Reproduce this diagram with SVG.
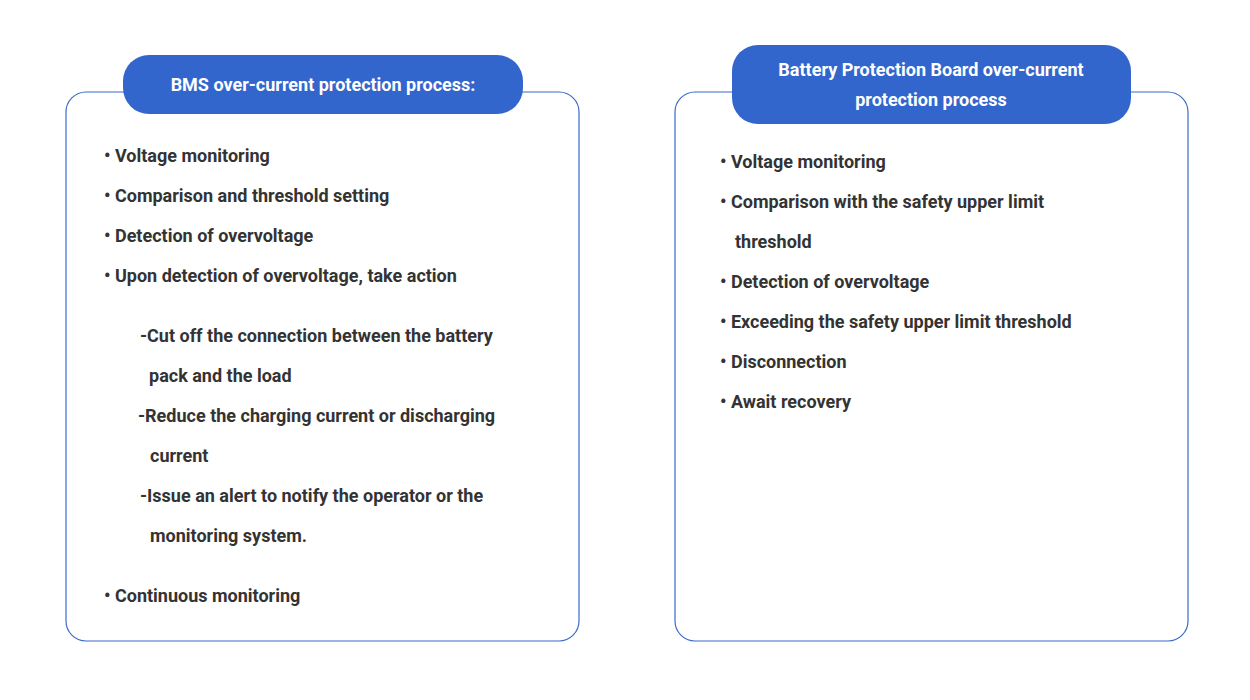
<svg xmlns="http://www.w3.org/2000/svg" width="1250" height="700" viewBox="0 0 1250 700">
<style>
.box{fill:#fff;stroke:#3a6bc8;stroke-width:1.2}
.pill{fill:#3366cc}
.h{font-family:Roboto,"Liberation Sans",sans-serif;font-weight:bold;font-size:18px;fill:#fff;text-anchor:middle}
.t{font-family:Roboto,"Liberation Sans",sans-serif;font-weight:bold;font-size:18px;fill:#333}
</style>
<rect width="1250" height="700" fill="#fff"/>
<g id="left">
<rect class="box" x="66" y="92" width="513" height="549" rx="20"/>
<rect class="pill" x="123" y="55" width="400" height="59" rx="26"/>
<text class="h" x="323" y="91">BMS over-current protection process:</text>
<text class="t" x="104" y="162">• Voltage monitoring</text>
<text class="t" x="104" y="202">• Comparison and threshold setting</text>
<text class="t" x="104" y="242">• Detection of overvoltage</text>
<text class="t" x="104" y="282">• Upon detection of overvoltage, take action</text>
<text class="t" x="140" y="342">-Cut off the connection between the battery</text>
<text class="t" x="149" y="382">pack and the load</text>
<text class="t" x="138" y="422">-Reduce the charging current or discharging</text>
<text class="t" x="150" y="462">current</text>
<text class="t" x="140" y="502">-Issue an alert to notify the operator or the</text>
<text class="t" x="150" y="542">monitoring system.</text>
<text class="t" x="104" y="602">• Continuous monitoring</text>
</g>
<g id="right">
<rect class="box" x="675" y="92" width="513" height="549" rx="20"/>
<rect class="pill" x="732" y="45" width="399" height="79" rx="26"/>
<text class="h" x="931" y="76">Battery Protection Board over-current</text>
<text class="h" x="931" y="106">protection process</text>
<text class="t" x="720" y="168">• Voltage monitoring</text>
<text class="t" x="720" y="208">• Comparison with the safety upper limit</text>
<text class="t" x="735" y="248">threshold</text>
<text class="t" x="720" y="288">• Detection of overvoltage</text>
<text class="t" x="720" y="328">• Exceeding the safety upper limit threshold</text>
<text class="t" x="720" y="368">• Disconnection</text>
<text class="t" x="720" y="408">• Await recovery</text>
</g>
<g id="connectors"/>
</svg>
